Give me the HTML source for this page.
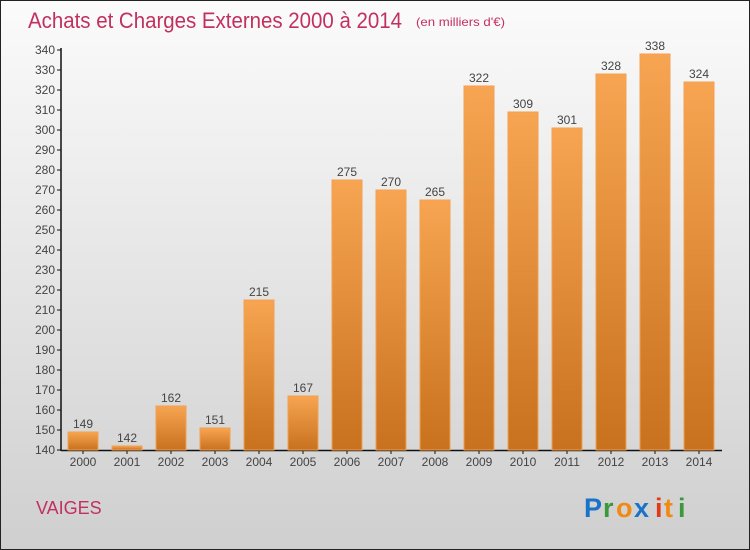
<!DOCTYPE html>
<html><head><meta charset="utf-8"><style>
body{margin:0}
#c{position:relative;width:750px;height:550px;box-sizing:border-box;border:1px solid #222;background:linear-gradient(#fbfbfb,#cfcfcf);font-family:"Liberation Sans",sans-serif;overflow:hidden}
</style></head><body>
<div id="c">
<svg width="750" height="550" style="position:absolute;left:-1px;top:-1px">
<defs><linearGradient id="g" x1="0" y1="0" x2="0" y2="1"><stop offset="0" stop-color="#f7a552"/><stop offset="1" stop-color="#c8711e"/></linearGradient></defs>
<text x="28" y="28" font-size="22" fill="#c2305f" textLength="374" lengthAdjust="spacingAndGlyphs">Achats et Charges Externes 2000 à 2014</text>
<text x="416" y="26" font-size="12" fill="#c2305f" textLength="89" lengthAdjust="spacingAndGlyphs">(en milliers d'€)</text>
<g id="ax"></g><g id="bars"></g>
<text x="36" y="514" font-size="18" fill="#c2305f">VAIGES</text>
<g font-size="27" font-family="Liberation Sans" font-weight="bold">
<text x="584" y="517" fill="#1a73c8">P</text><text x="603" y="517" fill="#3a9a3a">r</text><text x="616" y="517" fill="#f08a10">o</text><text x="634" y="517" fill="#1a73c8">x</text><text x="655" y="517" fill="#e03a1a">i</text><text x="664" y="517" fill="#f08a10">t</text><text x="678" y="517" fill="#3a9a3a">i</text></g>
</svg>
<script>
const years=["2000","2001","2002","2003","2004","2005","2006","2007","2008","2009","2010","2011","2012","2013","2014"];
const values=[149,142,162,151,215,167,275,270,265,322,309,301,328,338,324];
const ticks=[140,150,160,170,180,190,200,210,220,230,240,250,260,270,280,290,300,310,320,330,340];
const NS="http://www.w3.org/2000/svg";
const y=v=>450-(v-140)*2, x=i=>62+44*i+22-1;
function mk(t,a,p,txt){const e=document.createElementNS(NS,t);for(const k in a)e.setAttribute(k,a[k]);if(txt!==undefined)e.textContent=txt;p.appendChild(e);return e;}
const ax=document.getElementById('ax'),bg=document.getElementById('bars');
let l=mk('line',{x1:61,y1:48,x2:61,y2:451,stroke:'#111','stroke-width':1.5},ax);


l=mk('line',{x1:61,y1:450.5,x2:722,y2:450.5,stroke:'#111','stroke-width':1.5},ax);


ticks.forEach(t=>{mk('line',{x1:57,x2:61,y1:y(t),y2:y(t),stroke:'#111'},ax);
const e=mk('text',{x:55,y:y(t)+4,'font-size':12,fill:'#444','text-anchor':'end'},ax,t);

});
years.forEach((yr,i)=>{const cx=x(i),v=values[i];
mk('line',{x1:cx,x2:cx,y1:450,y2:454,stroke:'#111'},ax);
const t=mk('text',{x:cx,y:466,'font-size':12,fill:'#444','text-anchor':'middle'},ax,yr);


const r=mk('rect',{x:cx-15,y:y(v),width:30,height:450-y(v),fill:'url(#g)',stroke:'#f4a050','stroke-width':1},bg);


const lb=mk('text',{x:cx,y:y(v)-4,'font-size':12,fill:'#444','text-anchor':'middle'},bg,v);

});
</script>
</div></body></html>
